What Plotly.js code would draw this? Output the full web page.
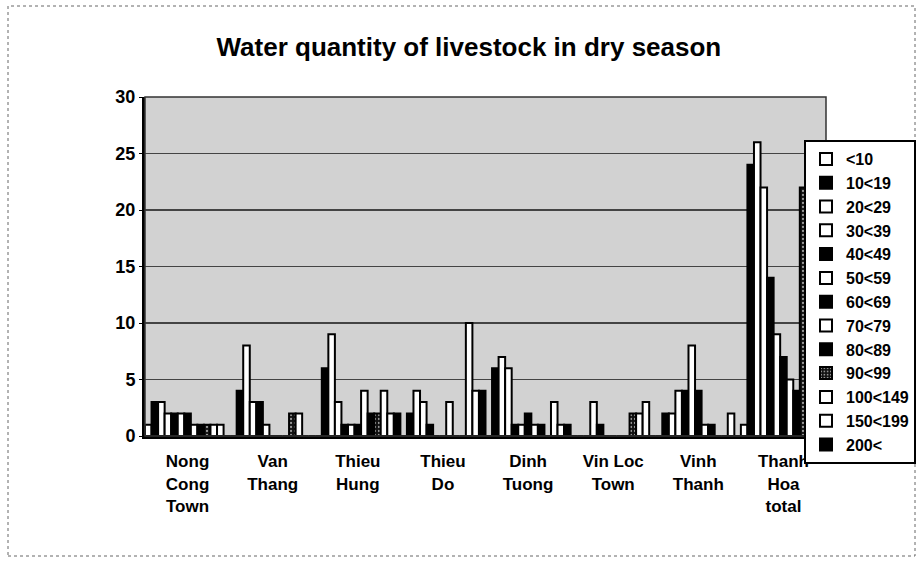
<!DOCTYPE html>
<html><head><meta charset="utf-8">
<script src="https://cdn.plot.ly/plotly-3.0.1.min.js"></script>
<style>html,body{margin:0;padding:0;background:#fff}#chart{width:923px;height:561px}</style>
</head><body><div id="chart"></div>
<script>
const categories = ["Nong<br>Cong<br>Town","Van<br>Thang","Thieu<br>Hung","Thieu<br>Do","Dinh<br>Tuong","Vin Loc<br>Town","Vinh<br>Thanh","Thanh<br>Hoa<br>total"];
const seriesNames = ["<10","10<19","20<29","30<39","40<49","50<59","60<69","70<79","80<89","90<99","100<149","150<199","200<"];
const seriesColors = ["#ffffff","#000000","#ffffff","#ffffff","#000000","#ffffff","#000000","#ffffff","#000000","#1a1a1a","#ffffff","#ffffff","#000000"];
// values per group (13 classes each)
const nongCong   = [1,3,3,2,2,2,2,1,1,1,1,1,0];
const vanThang   = [0,4,8,3,3,1,0,0,0,2,2,0,0];
const thieuHung  = [0,6,9,3,1,1,1,4,2,2,4,2,2];
const thieuDo    = [0,2,4,3,1,0,0,3,0,0,10,4,4];
const dinhTuong  = [0,6,7,6,1,1,2,1,1,0,3,1,1];
const vinLoc     = [0,0,0,3,1,0,0,0,0,2,2,3,0];
const vinhThanh  = [0,2,2,4,4,8,4,1,1,0,0,2,0];
const thanhHoa   = [1,24,26,22,14,9,7,5,4,22,10,8,9];
const groups = [nongCong,vanThang,thieuHung,thieuDo,dinhTuong,vinLoc,vinhThanh,thanhHoa];
const yTicks = [0,5,10,15,20,25,30];

const traces = seriesNames.map((name,i)=>{
  const t = {
    type:'bar', name:name, x:categories, y:groups.map(g=>g[i]),
    marker:{color:seriesColors[i], line:{color:'#000', width:2}}
  };
  if (name === "90<99") t.marker.pattern = {shape:'.', fgcolor:'#9a9a9a', bgcolor:'#111', size:4, solidity:0.25};
  return t;
});

const W=923,H=561,L=145,R=97,T=97,B=125;
const pw=W-L-R, ph=H-T-B;
const px=v=>(v-L)/pw, py=v=>(H-B-v)/ph;

const layout = {
  width:W, height:H,
  margin:{l:L,r:R,t:T,b:B,pad:0,autoexpand:false},
  paper_bgcolor:'#ffffff', plot_bgcolor:'#d2d2d2',
  font:{family:'Liberation Sans, Arial, sans-serif', color:'#000'},
  title:{text:'Water quantity of livestock in dry season', x:0.508, xanchor:'center', y:1-47/H, yanchor:'middle',
         font:{size:26, weight:'bold', color:'#000'}},
  barmode:'group', bargap:0.0, bargroupgap:0,
  xaxis:{type:'category', showgrid:false, showline:true, linecolor:'#000', linewidth:3,
         ticks:'', tickfont:{size:17, weight:'bold'}, ticklabelstandoff:8},
  yaxis:{range:[0,30], tickvals:yTicks, ticktext:yTicks.map(String), showgrid:true, gridcolor:'#444', gridwidth:1.6,
         showline:true, linecolor:'#000', linewidth:3, ticks:'outside', ticklen:3, tickcolor:'#000',
         zeroline:false, tickfont:{size:18, weight:'bold'}},
  legend:{x:px(804), y:py(140), xanchor:'left', yanchor:'top', bgcolor:'#ffffff', bordercolor:'#000', borderwidth:2,
          font:{size:16, weight:'bold'}, itemwidth:30, tracegroupgap:0},
  shapes:[
    {type:'rect', xref:'paper', yref:'paper', x0:0, x1:1, y0:0, y1:1, line:{color:'#333', width:1.5}, layer:'above'},
    {type:'rect', xref:'paper', yref:'paper', x0:px(8), x1:px(915), y0:py(556), y1:py(6), line:{color:'#666', width:1, dash:'dot'}}
  ]
};
Plotly.newPlot('chart', traces, layout, {displayModeBar:false, staticPlot:true});
</script></body></html>
